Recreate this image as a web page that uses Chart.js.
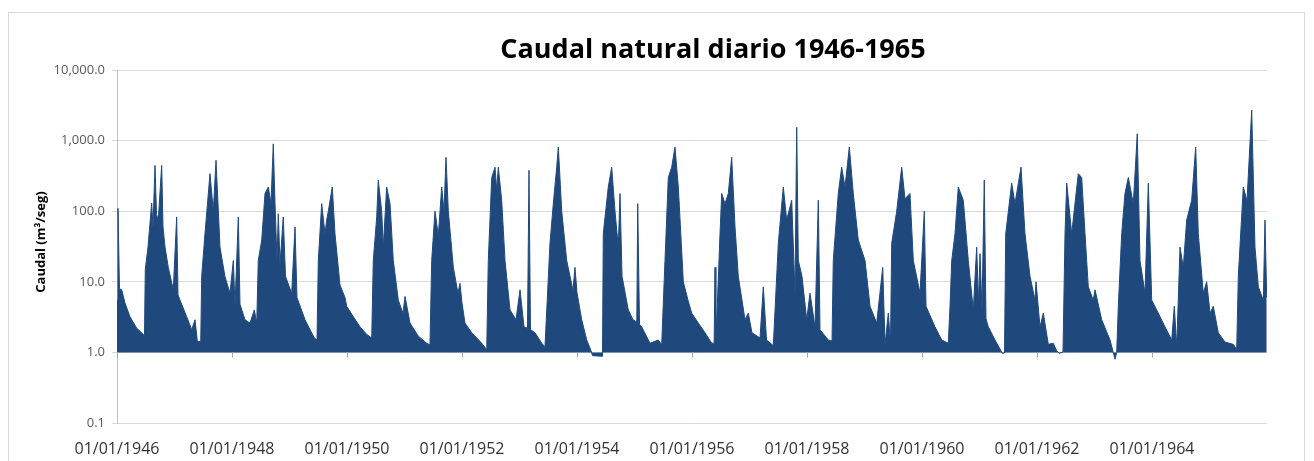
<!DOCTYPE html>
<html>
<head>
<meta charset="utf-8">
<script src="https://cdn.jsdelivr.net/npm/chart.js@4"></script>
<style>
  body { margin: 0; background: #fff; }
  #wrap { position: relative; width: 1314px; height: 461px; overflow: hidden; }
  #marco { position: absolute; left: 8px; top: 12px; width: 1297px; height: 470px; border: 1px solid #D9D9D9; box-sizing: border-box; }
  #caudalChart { position: absolute; left: 0; top: 0; }
</style>
</head>
<body>
<div id="wrap">
  <div id="marco"></div>
  <canvas id="caudalChart" width="1314" height="461"></canvas>
</div>
<script>
// años transcurridos desde 01/01/1946
const tiempo = [
  0.000, 0.017, 0.043, 0.082, 0.139, 0.226, 0.343, 0.457, 0.478, 0.492,
  0.539, 0.603, 0.626, 0.661, 0.687, 0.718, 0.777, 0.800, 0.835, 0.892,
  0.979, 1.038, 1.061, 1.096, 1.212, 1.299, 1.357, 1.397, 1.456, 1.473,
  1.530, 1.617, 1.675, 1.722, 1.791, 1.878, 1.965, 2.023, 2.052, 2.110,
  2.139, 2.226, 2.313, 2.388, 2.430, 2.457, 2.517, 2.574, 2.631, 2.678,
  2.718, 2.748, 2.783, 2.805, 2.835, 2.892, 2.930, 3.038, 3.096, 3.130,
  3.270, 3.357, 3.431, 3.478, 3.501, 3.560, 3.617, 3.647, 3.675, 3.744,
  3.791, 3.878, 3.965, 3.995, 4.110, 4.226, 4.343, 4.430, 4.457, 4.517,
  4.544, 4.603, 4.631, 4.690, 4.748, 4.805, 4.892, 4.974, 5.009, 5.096,
  5.240, 5.386, 5.443, 5.473, 5.530, 5.588, 5.647, 5.687, 5.722, 5.762,
  5.849, 5.930, 5.965, 6.000, 6.052, 6.169, 6.343, 6.430, 6.457, 6.517,
  6.574, 6.603, 6.631, 6.690, 6.748, 6.835, 6.939, 7.009, 7.078, 7.139,
  7.165, 7.191, 7.270, 7.386, 7.443, 7.530, 7.588, 7.647, 7.675, 7.734,
  7.821, 7.930, 7.965, 8.000, 8.082, 8.169, 8.238, 8.270, 8.443, 8.457,
  8.544, 8.603, 8.661, 8.718, 8.748, 8.783, 8.892, 8.974, 9.040, 9.056,
  9.087, 9.125, 9.270, 9.414, 9.473, 9.530, 9.588, 9.647, 9.704, 9.762,
  9.849, 9.930, 9.995, 10.110, 10.226, 10.343, 10.385, 10.400, 10.415, 10.487,
  10.517, 10.574, 10.631, 10.690, 10.748, 10.805, 10.922, 10.979, 11.043, 11.183,
  11.240, 11.296, 11.414, 11.501, 11.588, 11.647, 11.734, 11.791, 11.821, 11.849,
  11.913, 11.995, 12.052, 12.139, 12.197, 12.226, 12.370, 12.435, 12.457, 12.544,
  12.603, 12.661, 12.736, 12.805, 12.892, 13.009, 13.096, 13.212, 13.317, 13.357,
  13.414, 13.452, 13.473, 13.560, 13.647, 13.704, 13.791, 13.849, 13.965, 14.040,
  14.070, 14.226, 14.343, 14.457, 14.487, 14.517, 14.574, 14.631, 14.718, 14.805,
  14.892, 14.951, 14.983, 15.009, 15.043, 15.083, 15.113, 15.153, 15.270, 15.397,
  15.435, 15.456, 15.560, 15.617, 15.722, 15.791, 15.878, 15.965, 15.983, 16.052,
  16.110, 16.197, 16.283, 16.343, 16.388, 16.452, 16.487, 16.517, 16.603, 16.718,
  16.777, 16.835, 16.892, 16.979, 17.009, 17.125, 17.270, 17.357, 17.386, 17.414,
  17.473, 17.530, 17.588, 17.675, 17.744, 17.791, 17.878, 17.936, 17.995, 18.110,
  18.226, 18.343, 18.388, 18.430, 18.487, 18.544, 18.603, 18.690, 18.760, 18.805,
  18.892, 18.951, 19.009, 19.066, 19.153, 19.270, 19.414, 19.473, 19.501, 19.588,
  19.652, 19.734, 19.791, 19.849, 19.936, 19.965, 19.995
];

// caudal diario (m3/seg)
const caudal = [
  5.5, 110, 8, 7.7, 5, 3.2, 2.2, 1.8, 1.8, 15,
  31, 130, 60, 445, 90, 75, 445, 60, 31, 16,
  7.7, 83, 6.5, 5.5, 3.2, 2.1, 2.9, 1.43, 1.43, 12,
  48, 340, 100, 525, 31, 11.8, 6.9, 20, 4.5, 83,
  4.8, 2.9, 2.6, 4, 2.6, 20, 39, 178, 220, 130,
  900, 128, 20, 92, 18, 83, 12, 6.9, 60, 6,
  2.9, 2.1, 1.6, 1.5, 20, 128, 48, 75, 100, 220,
  48, 9, 6, 4.5, 3.2, 2.3, 1.8, 1.6, 20, 83,
  275, 100, 31, 220, 128, 20, 5.5, 3.6, 6.2, 2.6,
  1.7, 1.35, 1.28, 20, 100, 45, 220, 100, 580, 100,
  16, 6.9, 9.5, 5, 2.6, 1.9, 1.35, 1.09, 20, 300,
  420, 200, 420, 143, 20, 4, 2.9, 7.7, 2.3, 2.2,
  380, 2.1, 1.9, 1.35, 1.2, 35, 128, 420, 810, 100,
  20, 7.5, 16, 7, 2.9, 1.5, 1.09, 0.9, 0.88, 48,
  220, 420, 100, 31, 178, 12, 4, 2.9, 2.7, 128,
  2.5, 2.3, 1.35, 1.5, 1.28, 20, 300, 420, 810, 220,
  10, 5.5, 3.6, 2.6, 1.9, 1.35, 1.35, 16, 1.35, 48,
  178, 128, 178, 580, 60, 12, 2.9, 3.6, 1.9, 1.6,
  8.5, 1.5, 1.25, 35, 220, 75, 143, 6.9, 1540, 20,
  12, 2.9, 6.9, 2.3, 143, 2.1, 1.5, 1.45, 20, 178,
  420, 220, 810, 178, 39, 20, 4.5, 2.6, 16, 1.3,
  3.6, 1.35, 35, 100, 420, 150, 178, 20, 6.9, 100,
  4.5, 2.3, 1.5, 1.35, 4.5, 20, 48, 220, 143, 20,
  4, 31, 5, 25, 4, 275, 3, 2.3, 1.5, 0.97,
  0.98, 48, 250, 128, 420, 48, 12, 5.5, 10, 2.3,
  3.6, 1.3, 1.35, 1.05, 0.97, 1.02, 48, 250, 48, 340,
  300, 48, 8.5, 5.5, 7.7, 2.9, 1.5, 0.8, 1.0, 4.5,
  48, 178, 300, 128, 1250, 20, 6.9, 250, 5.5, 3.6,
  2.3, 1.5, 4.5, 1.2, 31, 16, 75, 143, 810, 48,
  6.9, 10, 3.6, 4.5, 1.9, 1.4, 1.3, 1.1, 12, 220,
  140, 2700, 31, 8.5, 5.5, 75, 6
];

const anioInicio = 1946;
const anioFin = 1966;
const etiquetasX = [1946, 1948, 1950, 1952, 1954, 1956, 1958, 1960, 1962, 1964];
const marcasY = [0.1, 1, 10, 100, 1000, 10000];

const fuente = "'Open Sans', 'Liberation Sans', sans-serif";
const azul = "rgb(31, 73, 125)";

const puntos = tiempo.map((t, i) => ({ x: anioInicio + t, y: caudal[i] }));

const fmt = v => Number(v).toLocaleString("en-US", { minimumFractionDigits: 1, maximumFractionDigits: 1 });

// titulos y marcas del eje de categorias (cruza en 1.0)
const extras = {
  id: "extras",
  afterDraw(chart) {
    const ctx = chart.ctx;
    const xs = chart.scales.x;
    const ys = chart.scales.y;
    const y1 = ys.getPixelForValue(1);
    ctx.save();
    ctx.strokeStyle = "#A6A6A6";
    ctx.lineWidth = 1;
    etiquetasX.forEach(a => {
      const px = Math.round(xs.getPixelForValue(a)) + 0.5;
      ctx.beginPath();
      ctx.moveTo(px, y1);
      ctx.lineTo(px, y1 + 5);
      ctx.stroke();
    });

    ctx.fillStyle = "#000";
    ctx.textAlign = "center";
    ctx.textBaseline = "middle";
    ctx.font = "bold 27px " + fuente;
    ctx.fillText("Caudal natural diario 1946-1965", 713, 50);

    ctx.translate(41, 242);
    ctx.rotate(-Math.PI / 2);
    ctx.font = "bold 13px " + fuente;
    ctx.fillText("Caudal (m³/seg)", 0, 0);
    ctx.restore();
  }
};

new Chart(document.getElementById("caudalChart"), {
  type: "line",
  data: {
    datasets: [{
      data: puntos,
      fill: { value: 1 },
      backgroundColor: azul,
      borderColor: azul,
      borderWidth: 1,
      pointRadius: 0,
      tension: 0
    }]
  },
  options: {
    responsive: false,
    animation: false,
    devicePixelRatio: 1,
    layout: { padding: { top: 70, right: 47, left: 0, bottom: 0 } },
    plugins: { legend: { display: false }, tooltip: { enabled: false }, title: { display: false } },
    scales: {
      x: {
        type: "linear",
        min: anioInicio,
        max: anioFin,
        afterBuildTicks: s => { s.ticks = etiquetasX.map(v => ({ value: v })); },
        afterFit: s => { s.height = 38; },
        grid: { display: false, drawTicks: false },
        border: { display: false },
        ticks: {
          autoSkip: false,
          maxRotation: 0,
          padding: 17,
          color: "#333",
          font: { family: fuente, size: 16 },
          callback: v => "01/01/" + v
        }
      },
      y: {
        type: "logarithmic",
        min: 0.1,
        max: 10000,
        afterBuildTicks: s => { s.ticks = marcasY.map(v => ({ value: v })); },
        afterFit: s => { s.width = 117; },
        grid: { color: "#D9D9D9", lineWidth: 1, tickLength: 5 },
        border: { color: "#BFBFBF" },
        ticks: {
          padding: 7,
          color: "#595959",
          font: { family: fuente, size: 13 },
          callback: v => fmt(v)
        }
      }
    }
  },
  plugins: [extras]
});
</script>
</body>
</html>
